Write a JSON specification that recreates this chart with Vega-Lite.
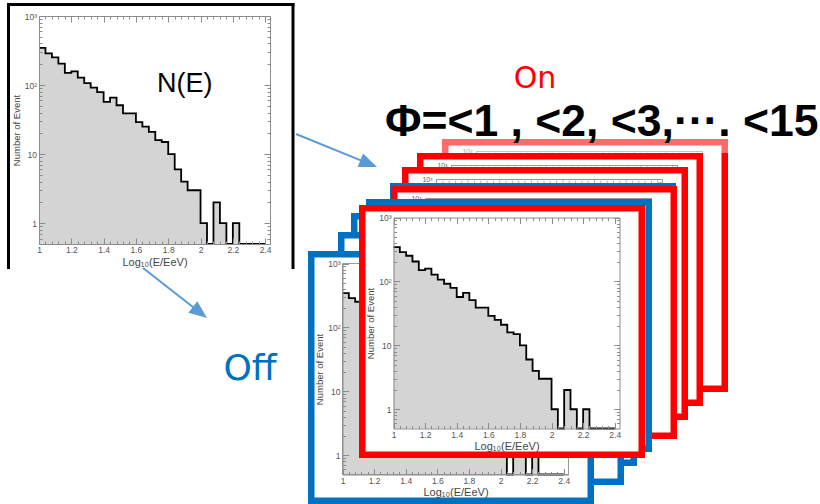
{
"$schema": "https://vega.github.io/schema/vega-lite/v6.json",
"width": 820, "height": 504, "padding": 0, "autosize": {"type": "none"},
"background": "white",
"config": {
  "view": {"stroke": null},
  "axis": {"zindex": 1, "grid": false, "labelFlush": false, "labelOverlap": false, "labelBound": false,
    "domainColor": "#8c8c8c", "domainWidth": 1, "tickColor": "#8c8c8c", "tickWidth": 1, "tickSize": -6,
    "labelColor": "#555555", "labelFont": "Liberation Sans", "labelFontSize": 8.5, "labelPadding": 8,
    "titleFont": "Liberation Sans", "titleColor": "#444444", "titleFontWeight": "normal", "titleFontSize": 11}
},
"datasets": {
  "spectrum": [
    {"logE":1.00,"events":345},{"logE":1.04,"events":288},{"logE":1.08,"events":252},{"logE":1.12,"events":205},
    {"logE":1.16,"events":150},{"logE":1.20,"events":158},{"logE":1.24,"events":128},{"logE":1.28,"events":107},
    {"logE":1.32,"events":92},{"logE":1.36,"events":79},{"logE":1.40,"events":57},{"logE":1.44,"events":66},
    {"logE":1.48,"events":51},{"logE":1.52,"events":39},{"logE":1.56,"events":39},{"logE":1.60,"events":29},
    {"logE":1.64,"events":25},{"logE":1.68,"events":21},{"logE":1.72,"events":16},{"logE":1.76,"events":15},
    {"logE":1.80,"events":10},{"logE":1.84,"events":6},{"logE":1.88,"events":4},{"logE":1.92,"events":3},
    {"logE":1.96,"events":3},{"logE":2.00,"events":1},{"logE":2.04,"events":0},{"logE":2.08,"events":2},
    {"logE":2.12,"events":1},{"logE":2.16,"events":0},{"logE":2.20,"events":1},{"logE":2.24,"events":0},
    {"logE":2.28,"events":0},{"logE":2.32,"events":0},{"logE":2.36,"events":0},{"logE":2.40,"events":0}
  ],
  "xticks": [
    {"logE":1.0,"kind":"major"},{"logE":1.04,"kind":"minor"},{"logE":1.08,"kind":"minor"},{"logE":1.12,"kind":"minor"},{"logE":1.16,"kind":"minor"},
    {"logE":1.2,"kind":"major"},{"logE":1.24,"kind":"minor"},{"logE":1.28,"kind":"minor"},{"logE":1.32,"kind":"minor"},{"logE":1.36,"kind":"minor"},
    {"logE":1.4,"kind":"major"},{"logE":1.44,"kind":"minor"},{"logE":1.48,"kind":"minor"},{"logE":1.52,"kind":"minor"},{"logE":1.56,"kind":"minor"},
    {"logE":1.6,"kind":"major"},{"logE":1.64,"kind":"minor"},{"logE":1.68,"kind":"minor"},{"logE":1.72,"kind":"minor"},{"logE":1.76,"kind":"minor"},
    {"logE":1.8,"kind":"major"},{"logE":1.84,"kind":"minor"},{"logE":1.88,"kind":"minor"},{"logE":1.92,"kind":"minor"},{"logE":1.96,"kind":"minor"},
    {"logE":2.0,"kind":"major"},{"logE":2.04,"kind":"minor"},{"logE":2.08,"kind":"minor"},{"logE":2.12,"kind":"minor"},{"logE":2.16,"kind":"minor"},
    {"logE":2.2,"kind":"major"},{"logE":2.24,"kind":"minor"},{"logE":2.28,"kind":"minor"},{"logE":2.32,"kind":"minor"},{"logE":2.36,"kind":"minor"},
    {"logE":2.4,"kind":"major"}
  ],
  "yticks": [
    {"events":0.6,"kind":"minor"},{"events":0.7,"kind":"minor"},{"events":0.8,"kind":"minor"},{"events":0.9,"kind":"minor"},
    {"events":1,"kind":"major"},{"events":2,"kind":"minor"},{"events":3,"kind":"minor"},{"events":4,"kind":"minor"},{"events":5,"kind":"minor"},{"events":6,"kind":"minor"},{"events":7,"kind":"minor"},{"events":8,"kind":"minor"},{"events":9,"kind":"minor"},
    {"events":10,"kind":"major"},{"events":20,"kind":"minor"},{"events":30,"kind":"minor"},{"events":40,"kind":"minor"},{"events":50,"kind":"minor"},{"events":60,"kind":"minor"},{"events":70,"kind":"minor"},{"events":80,"kind":"minor"},{"events":90,"kind":"minor"},
    {"events":100,"kind":"major"},{"events":200,"kind":"minor"},{"events":300,"kind":"minor"},{"events":400,"kind":"minor"},{"events":500,"kind":"minor"},{"events":600,"kind":"minor"},{"events":700,"kind":"minor"},{"events":800,"kind":"minor"},{"events":900,"kind":"minor"},
    {"events":1000,"kind":"major"}
  ]
},
"layer": [
  {
    "layer": [
      {"data": {"values": [{"part": "panel border left"}]},
       "mark": {"type": "rule", "color": "black", "strokeWidth": 3, "xOffset": -30.5, "yOffset": -13, "y2Offset": 25},
       "encoding": {
         "x": {"datum": 1, "type": "quantitative", "scale": {"domain": [1, 2.43], "range": [39, 270], "nice": false, "zero": false},
               "axis": {"zindex": 1, "orient": "bottom", "offset": -260, "values": [1,1.2,1.4,1.6,1.8,2,2.2,2.4], "format": "~g", "title": "Log₁₀(E/EeV)", "titlePadding": 2, "labelPadding": 7.5}},
         "y": {"datum": 1000, "type": "quantitative", "scale": {"type": "log", "domain": [0.5, 1000], "range": [244, 16], "nice": false, "clamp": true},
               "axis": {"zindex": 1, "orient": "left", "offset": -39, "values": [1,10,100,1000], "labelExpr": "datum.value >= 1000 ? '10³' : datum.value >= 100 ? '10²' : datum.value >= 10 ? '10' : '1'", "title": "Number of Event", "titleFontSize": 9.5, "titlePadding": 3, "labelPadding": 8.5}},
         "y2": {"datum": 0.5}
       }},
      {"data": {"values": [{"part": "panel border top"}]},
       "mark": {"type": "rule", "color": "black", "strokeWidth": 3, "xOffset": -32, "x2Offset": 24.5, "yOffset": -11.5},
       "encoding": {
         "x": {"datum": 1, "type": "quantitative", "scale": {"domain": [1, 2.43], "range": [39, 270], "nice": false, "zero": false},
               "axis": {"zindex": 1, "orient": "bottom", "offset": -260, "values": [1.04,1.08,1.12,1.16,1.24,1.28,1.32,1.36,1.44,1.48,1.52,1.56,1.64,1.68,1.72,1.76,1.84,1.88,1.92,1.96,2.04,2.08,2.12,2.16,2.24,2.28,2.32,2.36], "labels": false, "domain": false, "tickSize": -3, "title": null}},
         "x2": {"datum": 2.43},
         "y": {"datum": 1000, "type": "quantitative", "scale": {"type": "log", "domain": [0.5, 1000], "range": [244, 16], "nice": false, "clamp": true},
               "axis": {"zindex": 1, "orient": "left", "offset": -39, "values": [0.6,0.7,0.8,0.9,2,3,4,5,6,7,8,9,20,30,40,50,60,70,80,90,200,300,400,500,600,700,800,900], "labels": false, "domain": false, "tickSize": -3, "title": null}}
       }},
      {"data": {"values": [{"part": "panel border right"}]},
       "mark": {"type": "rule", "color": "black", "strokeWidth": 3, "xOffset": 23, "yOffset": -13, "y2Offset": 25},
       "encoding": {
         "x": {"datum": 2.43, "type": "quantitative", "scale": {"domain": [1, 2.43], "range": [39, 270], "nice": false, "zero": false},
               "axis": {"zindex": 1, "orient": "top", "offset": -16, "values": [1,1.2,1.4,1.6,1.8,2,2.2,2.4], "labels": false, "title": null}},
         "y": {"datum": 1000, "type": "quantitative", "scale": {"type": "log", "domain": [0.5, 1000], "range": [244, 16], "nice": false, "clamp": true},
               "axis": {"zindex": 1, "orient": "right", "offset": -550, "values": [1,10,100,1000], "labels": false, "title": null}},
         "y2": {"datum": 0.5}
       }},
      {"data": {"name": "spectrum"},
       "mark": {"type": "area", "interpolate": "step-after", "color": "#d4d4d4"},
       "encoding": {
         "x": {"field": "logE", "type": "quantitative", "scale": {"domain": [1, 2.43], "range": [39, 270], "nice": false, "zero": false},
               "axis": {"zindex": 1, "orient": "top", "offset": -16, "values": [1.04,1.08,1.12,1.16,1.24,1.28,1.32,1.36,1.44,1.48,1.52,1.56,1.64,1.68,1.72,1.76,1.84,1.88,1.92,1.96,2.04,2.08,2.12,2.16,2.24,2.28,2.32,2.36], "labels": false, "domain": false, "tickSize": -3, "title": null}},
         "y": {"field": "events", "type": "quantitative", "scale": {"type": "log", "domain": [0.5, 1000], "range": [244, 16], "nice": false, "clamp": true},
               "axis": {"zindex": 1, "orient": "right", "offset": -550, "values": [0.6,0.7,0.8,0.9,2,3,4,5,6,7,8,9,20,30,40,50,60,70,80,90,200,300,400,500,600,700,800,900], "labels": false, "domain": false, "tickSize": -3, "title": null}},
         "y2": {"datum": 0.5}
       }},
      {"data": {"name": "spectrum"},
       "mark": {"type": "line", "interpolate": "step-after", "color": "black", "strokeWidth": 1.8},
       "encoding": {
         "x": {"field": "logE", "type": "quantitative", "scale": {"domain": [1, 2.43], "range": [39, 270], "nice": false, "zero": false}, "axis": null},
         "y": {"field": "events", "type": "quantitative", "scale": {"type": "log", "domain": [0.5, 1000], "range": [244, 16], "nice": false, "clamp": true}, "axis": null}
       }},
      {"data": {"values": [{"label": "N(E)"}]},
       "mark": {"type": "text", "font": "Liberation Sans", "fontSize": 27, "color": "black", "align": "left", "baseline": "alphabetic"},
       "encoding": {
         "text": {"field": "label"},
         "x": {"datum": 1.73, "type": "quantitative", "scale": {"domain": [1, 2.43], "range": [39, 270], "nice": false, "zero": false}, "axis": null},
         "y": {"datum": 80, "type": "quantitative", "scale": {"type": "log", "domain": [0.5, 1000], "range": [244, 16], "nice": false, "clamp": true}, "axis": null}
       }},
      {"data": {"values": [{"link": "to On"}]},
       "mark": {"type": "rule", "color": "#5b9bd5", "strokeWidth": 2, "xOffset": 26, "x2Offset": 100},
       "encoding": {
         "x": {"datum": 2.43, "type": "quantitative", "scale": {"domain": [1, 2.43], "range": [39, 270], "nice": false, "zero": false}, "axis": null},
         "x2": {"datum": 2.43},
         "y": {"datum": 19.57, "type": "quantitative", "scale": {"type": "log", "domain": [0.5, 1000], "range": [244, 16], "nice": false, "clamp": true}, "axis": null},
         "y2": {"datum": 7.18}
       }},
      {"data": {"values": [{"link": "to On"}]},
       "mark": {"type": "point", "filled": true, "color": "#5b9bd5", "opacity": 1, "size": 324, "shape": "M0,-1L0.8,1L-0.8,1Z", "angle": 112, "xOffset": 98.7},
       "encoding": {
         "x": {"datum": 2.43, "type": "quantitative", "scale": {"domain": [1, 2.43], "range": [39, 270], "nice": false, "zero": false}, "axis": null},
         "y": {"datum": 7.3, "type": "quantitative", "scale": {"type": "log", "domain": [0.5, 1000], "range": [244, 16], "nice": false, "clamp": true}, "axis": null}
       }},
      {"data": {"values": [{"link": "to Off"}]},
       "mark": {"type": "rule", "color": "#5b9bd5", "strokeWidth": 2, "yOffset": 24, "x2Offset": -0.6, "y2Offset": 68.5},
       "encoding": {
         "x": {"datum": 1.644, "type": "quantitative", "scale": {"domain": [1, 2.43], "range": [39, 270], "nice": false, "zero": false}, "axis": null},
         "x2": {"datum": 2.0},
         "y": {"datum": 0.5, "type": "quantitative", "scale": {"type": "log", "domain": [0.5, 1000], "range": [244, 16], "nice": false, "clamp": true}, "axis": null},
         "y2": {"datum": 0.5}
       }},
      {"data": {"values": [{"link": "to Off"}]},
       "mark": {"type": "point", "filled": true, "color": "#5b9bd5", "opacity": 1, "size": 324, "shape": "M0,-1L0.8,1L-0.8,1Z", "angle": 128, "xOffset": -0.6, "yOffset": 68.5},
       "encoding": {
         "x": {"datum": 2.0, "type": "quantitative", "scale": {"domain": [1, 2.43], "range": [39, 270], "nice": false, "zero": false}, "axis": null},
         "y": {"datum": 0.5, "type": "quantitative", "scale": {"type": "log", "domain": [0.5, 1000], "range": [244, 16], "nice": false, "clamp": true}, "axis": null}
       }}
    ],
    "resolve": {"axis": {"x": "independent", "y": "independent"}}
  },
  {
    "layer": [
      {"data": {"values": [{"panel": "On, Φ<15"}]},
       "mark": {"type": "rect", "fill": "white", "stroke": "#ff0000", "strokeWidth": 6.5, "xOffset": -31.25, "x2Offset": 22.25, "yOffset": -9.25, "y2Offset": 26.25},
       "encoding": {
         "x": {"datum": 1, "type": "quantitative", "scale": {"domain": [1, 2.43], "range": [476.5, 702.5], "nice": false, "zero": false}, "axis": null},
         "x2": {"datum": 2.43},
         "y": {"datum": 1000, "type": "quantitative", "scale": {"type": "log", "domain": [0.5, 1000], "range": [362.5, 151.5], "nice": false}, "axis": null},
         "y2": {"datum": 0.5}
       }},
      {"data": {"values": [{"panel": "On, Φ<15"}]},
       "mark": {"type": "rect", "fillOpacity": 0, "stroke": "#9a9a9a", "strokeWidth": 1},
       "encoding": {"x": {"datum": 1, "type": "quantitative", "axis": null}, "x2": {"datum": 2.43}, "y": {"datum": 1000, "type": "quantitative", "axis": null}, "y2": {"datum": 0.5}}},
      {"data": {"name": "xticks"},
       "mark": {"type": "tick", "orient": "vertical", "color": "#9a9a9a", "thickness": 1, "yOffset": 2.5},
       "encoding": {"x": {"field": "logE", "type": "quantitative", "axis": null}, "y": {"datum": 1000, "type": "quantitative", "axis": null}, "size": {"field": "kind", "type": "nominal", "scale": {"domain": ["major", "minor"], "range": [6, 3]}, "legend": null}}},
      {"data": {"name": "yticks"},
       "mark": {"type": "tick", "orient": "horizontal", "color": "#9a9a9a", "thickness": 1, "xOffset": -2.5},
       "encoding": {"y": {"field": "events", "type": "quantitative", "axis": null}, "x": {"datum": 2.43, "type": "quantitative", "axis": null}, "size": {"field": "kind", "type": "nominal", "scale": {"domain": ["major", "minor"], "range": [6, 3]}, "legend": null}}},
      {"data": {"values": [{"tick": "10³"}]},
       "mark": {"type": "text", "font": "Liberation Sans", "fontSize": 7, "color": "#666666", "align": "right", "baseline": "middle", "dx": -4},
       "encoding": {"text": {"field": "tick"}, "x": {"datum": 1, "type": "quantitative", "axis": null}, "y": {"datum": 1000, "type": "quantitative", "axis": null}}},
      {"data": {"values": [{"part": "title box"}]},
       "mark": {"type": "rect", "fill": "white", "opacity": 0.42, "xOffset": -40.5, "x2Offset": 32.5, "yOffset": -71.5, "y2Offset": 1.5},
       "encoding": {"x": {"datum": 1, "type": "quantitative", "axis": null}, "x2": {"datum": 2.43}, "y": {"datum": 1000, "type": "quantitative", "axis": null}, "y2": {"datum": 1000}}},
      {"data": {"values": [{"label": "On"}]},
       "mark": {"type": "text", "font": "DejaVu Sans", "fontSize": 30, "color": "#ff0000", "align": "center", "baseline": "alphabetic", "dx": 58.5, "dy": -63.5},
       "encoding": {"text": {"field": "label"}, "x": {"datum": 1, "type": "quantitative", "axis": null}, "y": {"datum": 1000, "type": "quantitative", "axis": null}}},
      {"data": {"values": [{"label": "Φ=<1 , <2, <3,···. <15"}]},
       "mark": {"type": "text", "font": "Liberation Sans", "fontSize": 44.5, "fontWeight": "bold", "color": "black", "align": "left", "baseline": "alphabetic", "dx": -91.5, "dy": -15.5},
       "encoding": {"text": {"field": "label"}, "x": {"datum": 1, "type": "quantitative", "axis": null}, "y": {"datum": 1000, "type": "quantitative", "axis": null}}}
    ]
  },
  {
    "layer": [
      {"data": {"values": [{"panel": "On, Φ<3"}]},
       "mark": {"type": "rect", "fill": "white", "stroke": "#ff0000", "strokeWidth": 6.5, "xOffset": -31.25, "x2Offset": 22.25, "yOffset": -9.25, "y2Offset": 26.25},
       "encoding": {
         "x": {"datum": 1, "type": "quantitative", "scale": {"domain": [1, 2.43], "range": [451.5, 677.5], "nice": false, "zero": false}, "axis": null},
         "x2": {"datum": 2.43},
         "y": {"datum": 1000, "type": "quantitative", "scale": {"type": "log", "domain": [0.5, 1000], "range": [376.5, 165.5], "nice": false}, "axis": null},
         "y2": {"datum": 0.5}
       }},
      {"data": {"values": [{"panel": "On, Φ<3"}]},
       "mark": {"type": "rect", "fillOpacity": 0, "stroke": "#9a9a9a", "strokeWidth": 1},
       "encoding": {"x": {"datum": 1, "type": "quantitative", "axis": null}, "x2": {"datum": 2.43}, "y": {"datum": 1000, "type": "quantitative", "axis": null}, "y2": {"datum": 0.5}}},
      {"data": {"name": "xticks"},
       "mark": {"type": "tick", "orient": "vertical", "color": "#9a9a9a", "thickness": 1, "yOffset": 2.5},
       "encoding": {"x": {"field": "logE", "type": "quantitative", "axis": null}, "y": {"datum": 1000, "type": "quantitative", "axis": null}, "size": {"field": "kind", "type": "nominal", "scale": {"domain": ["major", "minor"], "range": [6, 3]}, "legend": null}}},
      {"data": {"name": "yticks"},
       "mark": {"type": "tick", "orient": "horizontal", "color": "#9a9a9a", "thickness": 1, "xOffset": -2.5},
       "encoding": {"y": {"field": "events", "type": "quantitative", "axis": null}, "x": {"datum": 2.43, "type": "quantitative", "axis": null}, "size": {"field": "kind", "type": "nominal", "scale": {"domain": ["major", "minor"], "range": [6, 3]}, "legend": null}}},
      {"data": {"values": [{"tick": "10³"}]},
       "mark": {"type": "text", "font": "Liberation Sans", "fontSize": 7, "color": "#666666", "align": "right", "baseline": "middle", "dx": -4},
       "encoding": {"text": {"field": "tick"}, "x": {"datum": 1, "type": "quantitative", "axis": null}, "y": {"datum": 1000, "type": "quantitative", "axis": null}}}
    ]
  },
  {
    "layer": [
      {"data": {"values": [{"panel": "On, Φ<2"}]},
       "mark": {"type": "rect", "fill": "white", "stroke": "#ff0000", "strokeWidth": 6.5, "xOffset": -31.25, "x2Offset": 22.25, "yOffset": -9.25, "y2Offset": 26.25},
       "encoding": {
         "x": {"datum": 1, "type": "quantitative", "scale": {"domain": [1, 2.43], "range": [436.5, 662.5], "nice": false, "zero": false}, "axis": null},
         "x2": {"datum": 2.43},
         "y": {"datum": 1000, "type": "quantitative", "scale": {"type": "log", "domain": [0.5, 1000], "range": [390.5, 179.5], "nice": false}, "axis": null},
         "y2": {"datum": 0.5}
       }},
      {"data": {"values": [{"panel": "On, Φ<2"}]},
       "mark": {"type": "rect", "fillOpacity": 0, "stroke": "#9a9a9a", "strokeWidth": 1},
       "encoding": {"x": {"datum": 1, "type": "quantitative", "axis": null}, "x2": {"datum": 2.43}, "y": {"datum": 1000, "type": "quantitative", "axis": null}, "y2": {"datum": 0.5}}},
      {"data": {"name": "xticks"},
       "mark": {"type": "tick", "orient": "vertical", "color": "#9a9a9a", "thickness": 1, "yOffset": 2.5},
       "encoding": {"x": {"field": "logE", "type": "quantitative", "axis": null}, "y": {"datum": 1000, "type": "quantitative", "axis": null}, "size": {"field": "kind", "type": "nominal", "scale": {"domain": ["major", "minor"], "range": [6, 3]}, "legend": null}}},
      {"data": {"name": "yticks"},
       "mark": {"type": "tick", "orient": "horizontal", "color": "#9a9a9a", "thickness": 1, "xOffset": -2.5},
       "encoding": {"y": {"field": "events", "type": "quantitative", "axis": null}, "x": {"datum": 2.43, "type": "quantitative", "axis": null}, "size": {"field": "kind", "type": "nominal", "scale": {"domain": ["major", "minor"], "range": [6, 3]}, "legend": null}}},
      {"data": {"values": [{"tick": "10³"}]},
       "mark": {"type": "text", "font": "Liberation Sans", "fontSize": 7, "color": "#666666", "align": "right", "baseline": "middle", "dx": -4},
       "encoding": {"text": {"field": "tick"}, "x": {"datum": 1, "type": "quantitative", "axis": null}, "y": {"datum": 1000, "type": "quantitative", "axis": null}}}
    ]
  },
  {
    "layer": [
      {"data": {"values": [{"panel": "Off, 5"}]},
       "mark": {"type": "rect", "fill": "white", "stroke": "#0070c0", "strokeWidth": 6.5, "xOffset": -31.25, "x2Offset": 22.25, "yOffset": -9.25, "y2Offset": 26.25},
       "encoding": {
         "x": {"datum": 1, "type": "quantitative", "scale": {"domain": [1, 2.43], "range": [424.5, 650.5], "nice": false, "zero": false}, "axis": null},
         "x2": {"datum": 2.43},
         "y": {"datum": 1000, "type": "quantitative", "scale": {"type": "log", "domain": [0.5, 1000], "range": [406.5, 195.5], "nice": false}, "axis": null},
         "y2": {"datum": 0.5}
       }}
    ]
  },
  {
    "layer": [
      {"data": {"values": [{"panel": "On, Φ<1 (2)"}]},
       "mark": {"type": "rect", "fill": "white", "stroke": "#ff0000", "strokeWidth": 6.5, "xOffset": -31.25, "x2Offset": 22.25, "yOffset": -9.25, "y2Offset": 26.25},
       "encoding": {
         "x": {"datum": 1, "type": "quantitative", "scale": {"domain": [1, 2.43], "range": [425.5, 651.5], "nice": false, "zero": false}, "axis": null},
         "x2": {"datum": 2.43},
         "y": {"datum": 1000, "type": "quantitative", "scale": {"type": "log", "domain": [0.5, 1000], "range": [409.5, 198.5], "nice": false}, "axis": null},
         "y2": {"datum": 0.5}
       }},
      {"data": {"values": [{"panel": "On"}]},
       "mark": {"type": "rect", "fillOpacity": 0, "stroke": "#9a9a9a", "strokeWidth": 1},
       "encoding": {"x": {"datum": 1, "type": "quantitative", "axis": null}, "x2": {"datum": 2.43}, "y": {"datum": 1000, "type": "quantitative", "axis": null}, "y2": {"datum": 0.5}}},
      {"data": {"name": "xticks"},
       "mark": {"type": "tick", "orient": "vertical", "color": "#9a9a9a", "thickness": 1, "yOffset": 2.5},
       "encoding": {"x": {"field": "logE", "type": "quantitative", "axis": null}, "y": {"datum": 1000, "type": "quantitative", "axis": null}, "size": {"field": "kind", "type": "nominal", "scale": {"domain": ["major", "minor"], "range": [6, 3]}, "legend": null}}},
      {"data": {"name": "yticks"},
       "mark": {"type": "tick", "orient": "horizontal", "color": "#9a9a9a", "thickness": 1, "xOffset": -2.5},
       "encoding": {"y": {"field": "events", "type": "quantitative", "axis": null}, "x": {"datum": 2.43, "type": "quantitative", "axis": null}, "size": {"field": "kind", "type": "nominal", "scale": {"domain": ["major", "minor"], "range": [6, 3]}, "legend": null}}},
      {"data": {"values": [{"tick": "10³"}]},
       "mark": {"type": "text", "font": "Liberation Sans", "fontSize": 7, "color": "#666666", "align": "right", "baseline": "middle", "dx": -4},
       "encoding": {"text": {"field": "tick"}, "x": {"datum": 1, "type": "quantitative", "axis": null}, "y": {"datum": 1000, "type": "quantitative", "axis": null}}}
    ]
  },
  {
    "layer": [
      {"data": {"values": [{"panel": "Off, 4"}]},
       "mark": {"type": "rect", "fill": "white", "stroke": "#0070c0", "strokeWidth": 6.5, "xOffset": -31.25, "x2Offset": 22.25, "yOffset": -9.25, "y2Offset": 26.25},
       "encoding": {
         "x": {"datum": 1, "type": "quantitative", "scale": {"domain": [1, 2.43], "range": [400.5, 626.5], "nice": false, "zero": false}, "axis": null},
         "x2": {"datum": 2.43},
         "y": {"datum": 1000, "type": "quantitative", "scale": {"type": "log", "domain": [0.5, 1000], "range": [422.5, 211.5], "nice": false}, "axis": null},
         "y2": {"datum": 0.5}
       }}
    ]
  },
  {
    "layer": [
      {"data": {"values": [{"panel": "Off, 3"}]},
       "mark": {"type": "rect", "fill": "white", "stroke": "#0070c0", "strokeWidth": 6.5, "xOffset": -31.25, "x2Offset": 22.25, "yOffset": -9.25, "y2Offset": 26.25},
       "encoding": {
         "x": {"datum": 1, "type": "quantitative", "scale": {"domain": [1, 2.43], "range": [385.5, 611.5], "nice": false, "zero": false}, "axis": null},
         "x2": {"datum": 2.43},
         "y": {"datum": 1000, "type": "quantitative", "scale": {"type": "log", "domain": [0.5, 1000], "range": [436.5, 225.5], "nice": false}, "axis": null},
         "y2": {"datum": 0.5}
       }}
    ]
  },
  {
    "layer": [
      {"data": {"values": [{"panel": "Off, 2"}]},
       "mark": {"type": "rect", "fill": "white", "stroke": "#0070c0", "strokeWidth": 6.5, "xOffset": -31.25, "x2Offset": 22.25, "yOffset": -9.25, "y2Offset": 26.25},
       "encoding": {
         "x": {"datum": 1, "type": "quantitative", "scale": {"domain": [1, 2.43], "range": [372.5, 598.5], "nice": false, "zero": false}, "axis": null},
         "x2": {"datum": 2.43},
         "y": {"datum": 1000, "type": "quantitative", "scale": {"type": "log", "domain": [0.5, 1000], "range": [455.5, 244.5], "nice": false}, "axis": null},
         "y2": {"datum": 0.5}
       }}
    ]
  },
  {
    "layer": [
      {"data": {"values": [{"panel": "Off, 1"}]},
       "mark": {"type": "rect", "fill": "white", "stroke": "#0070c0", "strokeWidth": 6.5, "xOffset": -31.25, "x2Offset": 22.25, "yOffset": -9.25, "y2Offset": 26.25},
       "encoding": {
         "x": {"datum": 1, "type": "quantitative", "scale": {"domain": [1, 2.43], "range": [342.5, 568.5], "nice": false, "zero": false},
               "axis": {"zindex": 1, "orient": "bottom", "offset": -29.5, "values": [1,1.2,1.4,1.6,1.8,2,2.2,2.4], "format": "~g", "title": "Log₁₀(E/EeV)", "titlePadding": 2, "labelPadding": 7.5}},
         "x2": {"datum": 2.43},
         "y": {"datum": 1000, "type": "quantitative", "scale": {"type": "log", "domain": [0.5, 1000], "range": [474.5, 263.5], "nice": false, "clamp": true},
               "axis": {"zindex": 1, "orient": "left", "offset": -342.5, "values": [1,10,100,1000], "labelExpr": "datum.value >= 1000 ? '10³' : datum.value >= 100 ? '10²' : datum.value >= 10 ? '10' : '1'", "title": "Number of Event", "titleFontSize": 9.5, "titlePadding": 3, "labelPadding": 8.5}},
         "y2": {"datum": 0.5}
       }},
      {"data": {"name": "spectrum"},
       "mark": {"type": "area", "interpolate": "step-after", "color": "#d4d4d4"},
       "encoding": {
         "x": {"field": "logE", "type": "quantitative", "scale": {"domain": [1, 2.43], "range": [342.5, 568.5], "nice": false, "zero": false},
               "axis": {"zindex": 1, "orient": "bottom", "offset": -29.5, "values": [1.04,1.08,1.12,1.16,1.24,1.28,1.32,1.36,1.44,1.48,1.52,1.56,1.64,1.68,1.72,1.76,1.84,1.88,1.92,1.96,2.04,2.08,2.12,2.16,2.24,2.28,2.32,2.36], "labels": false, "domain": false, "tickSize": -3, "title": null}},
         "y": {"field": "events", "type": "quantitative", "scale": {"type": "log", "domain": [0.5, 1000], "range": [474.5, 263.5], "nice": false, "clamp": true},
               "axis": {"zindex": 1, "orient": "left", "offset": -342.5, "values": [0.6,0.7,0.8,0.9,2,3,4,5,6,7,8,9,20,30,40,50,60,70,80,90,200,300,400,500,600,700,800,900], "labels": false, "domain": false, "tickSize": -3, "title": null}},
         "y2": {"datum": 0.5}
       }},
      {"data": {"name": "spectrum"},
       "mark": {"type": "line", "interpolate": "step-after", "color": "black", "strokeWidth": 1.8},
       "encoding": {
         "x": {"field": "logE", "type": "quantitative", "axis": null},
         "y": {"field": "events", "type": "quantitative", "scale": {"type": "log", "domain": [0.5, 1000], "range": [474.5, 263.5], "nice": false, "clamp": true}, "axis": null}
       }},
      {"data": {"values": [{"panel": "Off, 1"}]},
       "mark": {"type": "rect", "fillOpacity": 0, "stroke": "#9a9a9a", "strokeWidth": 1},
       "encoding": {"x": {"datum": 1, "type": "quantitative", "axis": null}, "x2": {"datum": 2.43}, "y": {"datum": 1000, "type": "quantitative", "scale": {"type": "log", "domain": [0.5, 1000], "range": [474.5, 263.5], "nice": false, "clamp": true}, "axis": null}, "y2": {"datum": 0.5}}},
      {"data": {"values": [{"label": "Off"}]},
       "mark": {"type": "text", "font": "DejaVu Sans", "fontSize": 36, "color": "#0070c0", "align": "left", "baseline": "alphabetic", "dx": -119, "dy": -11},
       "encoding": {"text": {"field": "label"}, "x": {"datum": 1, "type": "quantitative", "axis": null}, "y": {"datum": 10, "type": "quantitative", "scale": {"type": "log", "domain": [0.5, 1000], "range": [474.5, 263.5], "nice": false, "clamp": true}, "axis": null}}}
    ],
    "resolve": {"axis": {"x": "independent", "y": "independent"}}
  },
  {
    "layer": [
      {"data": {"values": [{"panel": "On, Φ<1"}]},
       "mark": {"type": "rect", "fill": "white", "stroke": "#ff0000", "strokeWidth": 6.5, "xOffset": -31.25, "x2Offset": 22.25, "yOffset": -9.25, "y2Offset": 26.25},
       "encoding": {
         "x": {"datum": 1, "type": "quantitative", "scale": {"domain": [1, 2.43], "range": [393.5, 619.5], "nice": false, "zero": false},
               "axis": {"zindex": 1, "orient": "bottom", "offset": -75.5, "values": [1,1.2,1.4,1.6,1.8,2,2.2,2.4], "format": "~g", "title": "Log₁₀(E/EeV)", "titlePadding": 2, "labelPadding": 7.5}},
         "x2": {"datum": 2.43},
         "y": {"datum": 1000, "type": "quantitative", "scale": {"type": "log", "domain": [0.5, 1000], "range": [428.5, 217.5], "nice": false, "clamp": true},
               "axis": {"zindex": 1, "orient": "left", "offset": -393.5, "values": [1,10,100,1000], "labelExpr": "datum.value >= 1000 ? '10³' : datum.value >= 100 ? '10²' : datum.value >= 10 ? '10' : '1'", "title": "Number of Event", "titleFontSize": 9.5, "titlePadding": 3, "labelPadding": 8.5}},
         "y2": {"datum": 0.5}
       }},
      {"data": {"name": "spectrum"},
       "mark": {"type": "area", "interpolate": "step-after", "color": "#d4d4d4"},
       "encoding": {
         "x": {"field": "logE", "type": "quantitative", "scale": {"domain": [1, 2.43], "range": [393.5, 619.5], "nice": false, "zero": false},
               "axis": {"zindex": 1, "orient": "bottom", "offset": -75.5, "values": [1.04,1.08,1.12,1.16,1.24,1.28,1.32,1.36,1.44,1.48,1.52,1.56,1.64,1.68,1.72,1.76,1.84,1.88,1.92,1.96,2.04,2.08,2.12,2.16,2.24,2.28,2.32,2.36], "labels": false, "domain": false, "tickSize": -3, "title": null}},
         "y": {"field": "events", "type": "quantitative", "scale": {"type": "log", "domain": [0.5, 1000], "range": [428.5, 217.5], "nice": false, "clamp": true},
               "axis": {"zindex": 1, "orient": "left", "offset": -393.5, "values": [0.6,0.7,0.8,0.9,2,3,4,5,6,7,8,9,20,30,40,50,60,70,80,90,200,300,400,500,600,700,800,900], "labels": false, "domain": false, "tickSize": -3, "title": null}},
         "y2": {"datum": 0.5}
       }},
      {"data": {"name": "spectrum"},
       "mark": {"type": "line", "interpolate": "step-after", "color": "black", "strokeWidth": 1.8},
       "encoding": {
         "x": {"field": "logE", "type": "quantitative", "scale": {"domain": [1, 2.43], "range": [393.5, 619.5], "nice": false, "zero": false},
               "axis": {"zindex": 1, "orient": "top", "offset": -217.5, "values": [1,1.2,1.4,1.6,1.8,2,2.2,2.4], "labels": false, "title": null}},
         "y": {"field": "events", "type": "quantitative", "scale": {"type": "log", "domain": [0.5, 1000], "range": [428.5, 217.5], "nice": false, "clamp": true},
               "axis": {"zindex": 1, "orient": "right", "offset": -200.5, "values": [1,10,100,1000], "labels": false, "title": null}}
       }},
      {"data": {"values": [{"panel": "On, Φ<1"}]},
       "mark": {"type": "rect", "opacity": 0},
       "encoding": {
         "x": {"datum": 1, "type": "quantitative", "scale": {"domain": [1, 2.43], "range": [393.5, 619.5], "nice": false, "zero": false},
               "axis": {"zindex": 1, "orient": "top", "offset": -217.5, "values": [1.04,1.08,1.12,1.16,1.24,1.28,1.32,1.36,1.44,1.48,1.52,1.56,1.64,1.68,1.72,1.76,1.84,1.88,1.92,1.96,2.04,2.08,2.12,2.16,2.24,2.28,2.32,2.36], "labels": false, "domain": false, "tickSize": -3, "title": null}},
         "x2": {"datum": 2.43},
         "y": {"datum": 1000, "type": "quantitative", "scale": {"type": "log", "domain": [0.5, 1000], "range": [428.5, 217.5], "nice": false, "clamp": true},
               "axis": {"zindex": 1, "orient": "right", "offset": -200.5, "values": [0.6,0.7,0.8,0.9,2,3,4,5,6,7,8,9,20,30,40,50,60,70,80,90,200,300,400,500,600,700,800,900], "labels": false, "domain": false, "tickSize": -3, "title": null}},
         "y2": {"datum": 0.5}
       }}
    ],
    "resolve": {"axis": {"x": "independent", "y": "independent"}}
  }
],
"resolve": {"scale": {"x": "independent", "y": "independent"}, "axis": {"x": "independent", "y": "independent"}}
}
